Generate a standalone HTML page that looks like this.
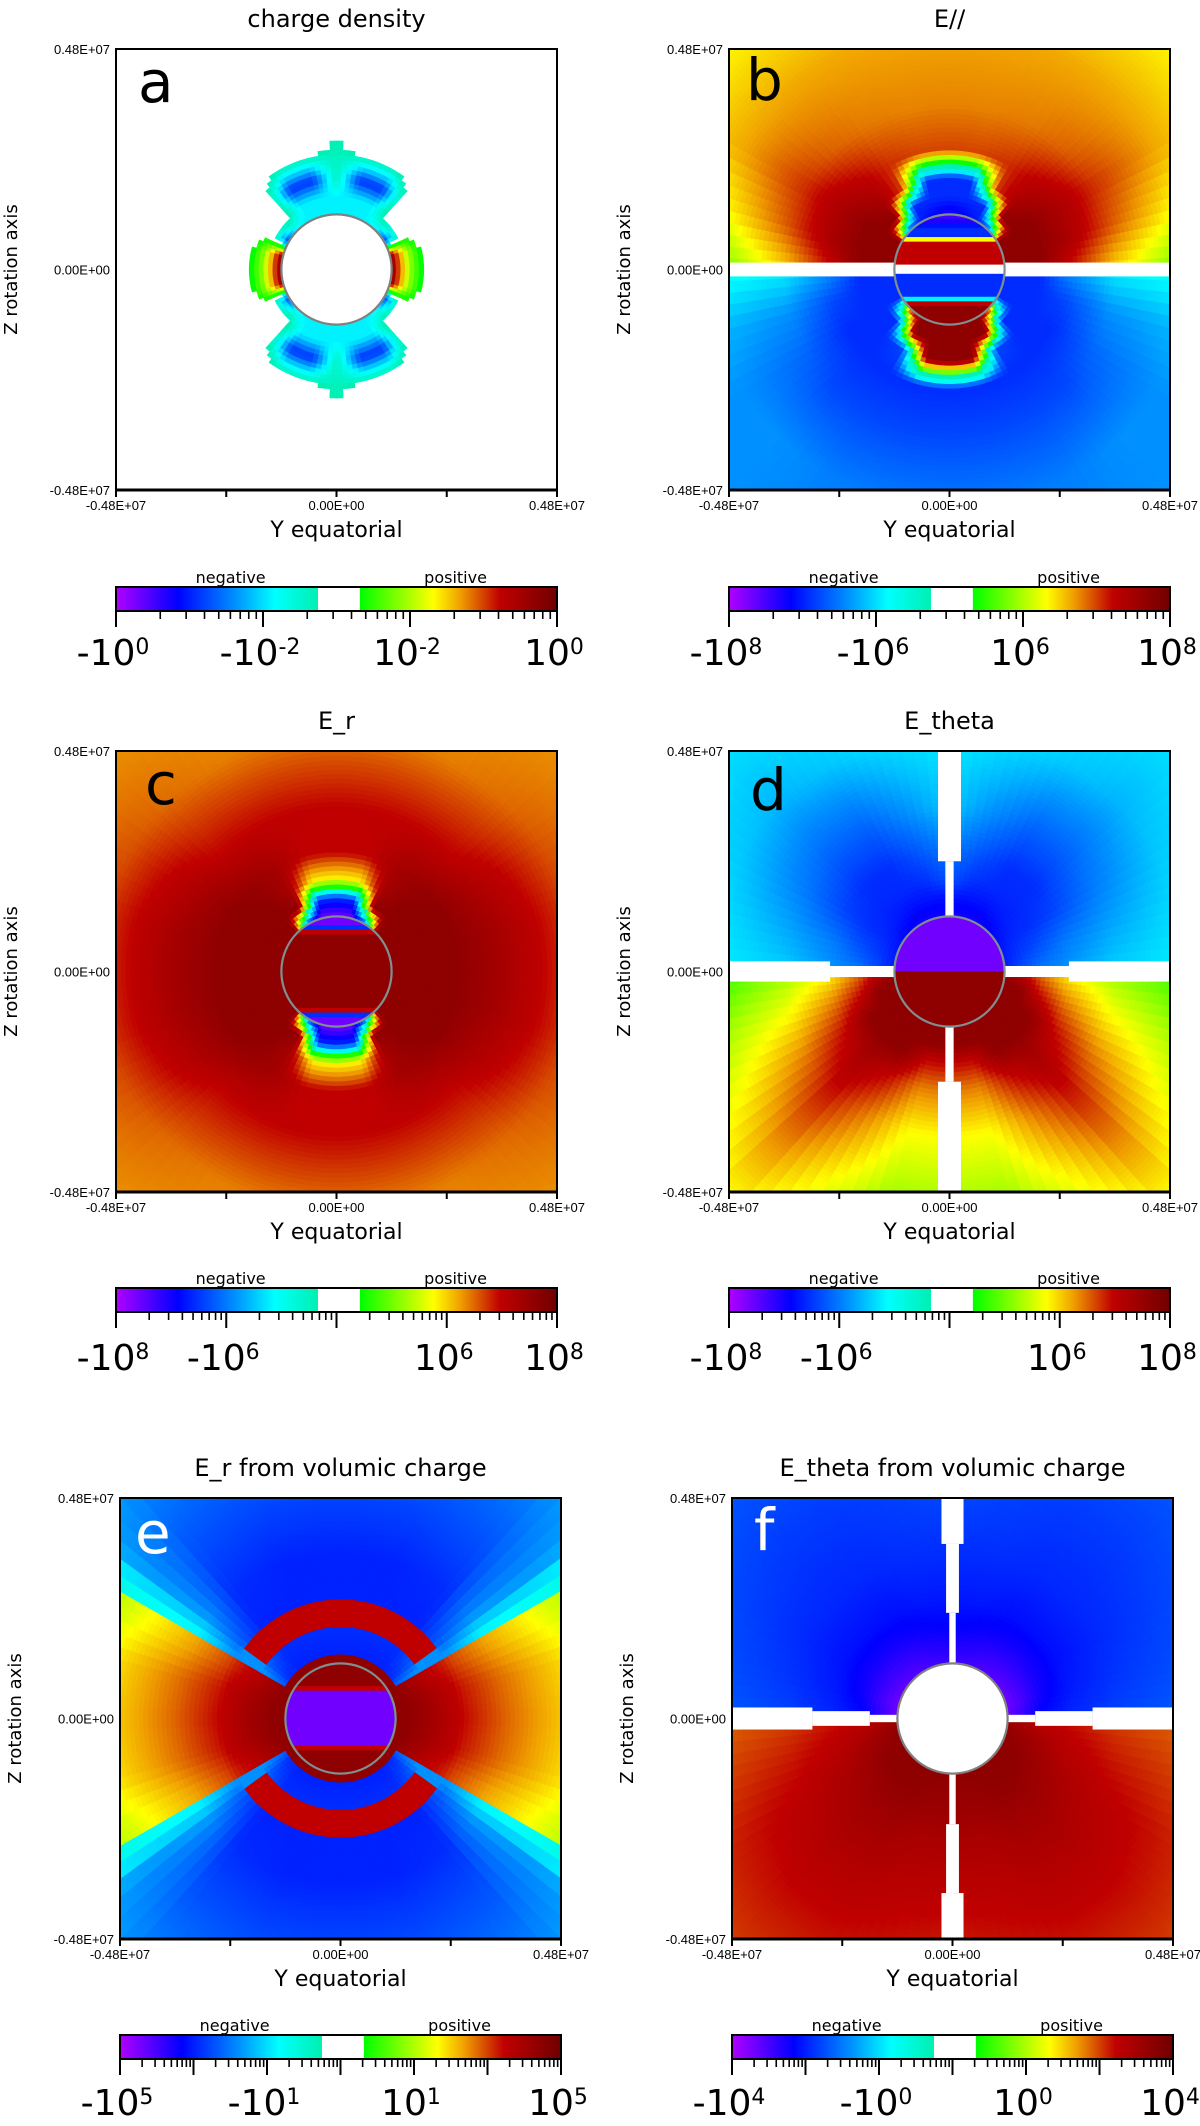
<!DOCTYPE html>
<html><head><meta charset="utf-8">
<style>
html,body{margin:0;padding:0;background:#fff}
svg{display:block}
text{font-family:"DejaVu Sans","Liberation Sans",sans-serif;fill:#000}
.tk{font-family:"Liberation Sans",sans-serif;font-size:13px}
</style></head>
<body>
<svg id="fig" width="1200" height="2126" viewBox="0 0 1200 2126" xmlns="http://www.w3.org/2000/svg">
<defs id="defs"></defs>
</svg>
<script>
// ---------- data (values in field units; radii in 1e6 m; angles in degrees from north pole) ----------
const radiiStd = [1.2, 1.6, 2.0, 2.6, 3.6, 5.2, 7.0];
const thetaTopStd = [0, 15, 30, 45, 60, 75, 90];
const thetaBotStd = [90, 105, 120, 135, 150, 165, 180];

const aTop = [
 [-0.008,-0.008,-0.008,-0.008,-0.083,0.5,0.5],
 [-0.008,-0.008,-0.008,0,0,0.008,0.008],
 [-0.0023,-0.083,-0.083,0,0,0,0],
 [-0.0023,0,0,0,0,0,0],
 [0,0,0,0,0,0,0],[0,0,0,0,0,0,0],[0,0,0,0,0,0,0]];
const aBot = [
 [0.5,0.5,-0.083,-0.008,-0.008,-0.008,-0.008],
 [0.008,0.008,0,0,-0.008,-0.008,-0.008],
 [0,0,0,0,-0.083,-0.083,-0.0023],
 [0,0,0,0,0,0,-0.0023],
 [0,0,0,0,0,0,0],[0,0,0,0,0,0,0],[0,0,0,0,0,0,0]];
const aInside = [0,0,0,0,0,0,0,0,0,0,0,0,0,0,0,0,0,0,0,0,0,0,0,0];

const bTop = [
 [-2e7,-1.5e7,-1e7,-8.3e6,5e7,5e7,5e7],
 [-8.3e6,-8.3e6,-8.3e6,5e7,5e7,5e7,5e7],
 [-8.3e6,-8.3e6,1e7,3e7,5e7,5e7,5e7],
 [1e7,1e7,1.2e7,2e7,3e7,3e7,1.5e7],
 [6e6,6e6,6.5e6,8e6,1.2e7,9e6,3e6],
 [4.5e6,4.5e6,4.5e6,4.5e6,4.5e6,1.8e6,4e5],
 [3e6,2.5e6,2.1e6,2.1e6,2e6,8e5,2.6e5]];
const bBot = [
 [-8.3e6,-8.3e6,-8.3e6,1.66e7,5e7,5e7,5e7],
 [-8.3e6,-8.3e6,-8.3e6,-8.3e6,5e7,5e7,5e7],
 [-8.3e6,-8.3e6,-8.3e6,-8.3e6,-6e6,5e7,5e7],
 [-2.4e6,-6e6,-8.3e6,-8.3e6,-8.3e6,-8.3e6,-8.3e6],
 [-7.9e5,-2.4e6,-4e6,-6e6,-6e6,-6e6,-6e6],
 [-5e5,-1.5e6,-2.4e6,-2.4e6,-3e6,-3e6,-3e6],
 [-5e5,-1e6,-2.4e6,-2.4e6,-2.4e6,-2.4e6,-2.4e6]];
const bInside = [-3e7,-2e7,-1.2e7,-8.3e6,-8.3e6,2.1e6,1.66e7,1.66e7,1.66e7,1.66e7,1.66e7,0,0,-8.3e6,-8.3e6,-8.3e6,-8.3e6,-8.3e6,-7.9e5,1.66e7,5e7,5e7,5e7,5e7];

const cTop = [
 [-4e7,-4e7,-3.6e6,4e7,4e7,4e7,4e7],
 [-3.6e6,-3.6e6,4e7,4e7,4e7,4e7,4e7],
 [5.8e5,5.8e5,2e7,4e7,4e7,4e7,4e7],
 [9.1e6,9.1e6,2e7,3e7,4e7,4e7,4e7],
 [9.1e6,9.1e6,9.1e6,9.1e6,1.5e7,2e7,2e7],
 [2.5e6,2.5e6,2.5e6,3e6,4e6,5e6,5e6],
 [1.5e6,1.6e6,1.8e6,2e6,2e6,2.2e6,2.5e6]];
const cBot = [
 [4e7,4e7,4e7,4e7,-3.6e6,-4e7,-4e7],
 [4e7,4e7,4e7,4e7,4e7,-3.6e6,-3.6e6],
 [4e7,4e7,4e7,4e7,2e7,5.8e5,5.8e5],
 [4e7,4e7,4e7,3e7,2e7,9.1e6,9.1e6],
 [2e7,2e7,1.5e7,9.1e6,9.1e6,9.1e6,9.1e6],
 [5e6,5e6,4e6,3e6,2.5e6,2.5e6,2.5e6],
 [2.5e6,2.2e6,2e6,2e6,1.8e6,1.6e6,1.5e6]];
const cInside = [-4e7,-4e7,-3.6e6,9.1e6,4e7,4e7,4e7,4e7,4e7,4e7,4e7,4e7,4e7,4e7,4e7,4e7,4e7,4e7,4e7,4e7,9.1e6,-3.6e6,-4e7,-4e7];

const dTop = [
 [-1e7,-1e7,-1e7,-8e6,-6e6,-5e6,-5e6],
 [-6e6,-6e6,-6e6,-5e6,-4e6,-3e6,-2e6],
 [-2e6,-3.6e6,-4e6,-4e6,-3.6e6,-2e6,-1e6],
 [-1e6,-2e6,-3.6e6,-3.6e6,-2.5e6,-1e6,-6e5],
 [-3e5,-6.9e5,-1.5e6,-1.5e6,-1e6,-5e5,-2.5e5],
 [-1.6e5,-2e5,-3e5,-4e5,-3e5,-2e5,-1.5e5],
 [-1.2e5,-1.2e5,-1.5e5,-2e5,-1.5e5,-1.2e5,-1e5]];
const dBot = [
 [4e7,4e7,4e7,4e7,4e7,4e7,4e7],
 [9.1e6,4e7,4e7,4e7,4e7,4e7,4e7],
 [2.5e6,9.1e6,4e7,4e7,4e7,9.1e6,9.1e6],
 [5.8e5,2.5e6,9.1e6,2e7,9.1e6,2.5e6,2.5e6],
 [1.6e5,5.8e5,2.5e6,9.1e6,2.5e6,5.8e5,5.8e5],
 [3.6e4,1.6e5,5.8e5,2.5e6,5.8e5,1.6e5,1.6e5],
 [3.6e4,3.6e4,1.6e5,5.8e5,1.6e5,3.6e4,3.6e4]];
const dInside = [-4e7,-4e7,-4e7,-4e7,-4e7,-4e7,-4e7,-4e7,-4e7,-4e7,-4e7,-4e7,4e7,4e7,4e7,4e7,4e7,4e7,4e7,4e7,4e7,4e7,4e7,4e7];

const radiiE = [1.2, 1.32, 1.42, 1.95, 2.05, 2.6, 2.7, 3.6, 5.2, 7.0];
const thetaTopE = [0, 20, 40, 52, 58, 63, 75, 90];
const thetaBotE = [90, 105, 117, 122, 128, 140, 160, 180];
const eTop = [
 [2.5e4,2.5e4,2.5e4,2.5e4,2.5e4,2.5e4,2.5e4,2.5e4],
 [2.5e4,2.5e4,2.5e4,2.5e4,2.5e4,2.5e4,2.5e4,2.5e4],
 [-900,-900,-900,-690,-230,2e4,2.5e4,2.5e4],
 [-690,-690,-690,-230,-58,5000,1e4,1.2e4],
 [2750,2750,2750,2750,-58,4000,8000,1e4],
 [2750,2750,2750,2750,-58,1500,2750,3000],
 [-900,-900,-900,-230,-58,1000,2000,2500],
 [-900,-900,-690,-58,-6.3,200,500,600],
 [-300,-300,-230,-58,-3,20,60,76],
 [-100,-100,-58,-30,-1,3,15,20]];
const eBot = [
 [2.5e4,2.5e4,2.5e4,2.5e4,2.5e4,2.5e4,2.5e4,2.5e4],
 [2.5e4,2.5e4,2.5e4,2.5e4,2.5e4,2.5e4,2.5e4,2.5e4],
 [2.5e4,2.5e4,2e4,-230,-690,-900,-900,-900],
 [1.2e4,1e4,5000,-58,-230,-690,-690,-690],
 [1e4,8000,4000,-58,2750,2750,2750,2750],
 [3000,2750,1500,-58,2750,2750,2750,2750],
 [2500,2000,1000,-58,-230,-900,-900,-900],
 [600,500,200,-6.3,-58,-690,-900,-900],
 [76,60,20,-3,-58,-230,-300,-300],
 [20,15,3,-1,-30,-58,-100,-100]];
const eInside = [2.5e4,2.5e4,2.5e4,2.5e4,2.5e4,2750,-2.5e4,-2.5e4,-2.5e4,-2.5e4,-2.5e4,-2.5e4,-2.5e4,-2.5e4,-2.5e4,-2.5e4,-2.5e4,-2.5e4,2750,2.5e4,2.5e4,2.5e4,2.5e4,2.5e4];

const fTop = [
 [-800,-900,-1200,-1500,-2000,-2500,-2000],
 [-400,-450,-600,-700,-800,-900,-500],
 [-200,-250,-300,-350,-350,-300,-150],
 [-120,-120,-150,-150,-150,-120,-80],
 [-69,-69,-80,-80,-80,-60,-40],
 [-30,-40,-50,-50,-40,-30,-20],
 [-15,-20,-25,-25,-20,-15,-12]];
const fBot = [
 [1500,2500,2500,2500,2500,2500,2500],
 [600,1500,2500,2500,2500,2000,2000],
 [300,800,1500,2000,2000,1500,1500],
 [200,400,800,1200,1200,800,800],
 [100,200,400,600,600,400,400],
 [50,100,200,250,250,200,150],
 [30,50,80,100,100,80,60]];
const fInside = [0,0,0,0,0,0,0,0,0,0,0,0,0,0,0,0,0,0,0,0,0,0,0,0];

// white gaps: [r_start, r_end, half_width] in 1e6 m
const bEqGap = [[1.2,7,0.15]];
const dAxisGap = [[1.2,2.4,0.09],[2.4,7,0.25]];
const dEqGap = [[1.2,2.6,0.12],[2.6,7,0.22]];
const fAxisGap = [[1.2,2.3,0.07],[2.3,3.8,0.14],[3.8,7,0.24]];
const fEqGap = [[1.2,1.8,0.08],[1.8,3.05,0.16],[3.05,7,0.24]];

// colorbar labels
const cbBasesA = ['-10','-10','10','10']; const cbExpsA = ['0','-2','-2','0'];
const cbBasesB = ['-10','-10','10','10']; const cbExpsB = ['8','6','6','8'];
const cbBasesC = ['-10','-10','10','10']; const cbExpsC = ['8','6','6','8'];
const cbBasesD = ['-10','-10','10','10']; const cbExpsD = ['8','6','6','8'];
const cbBasesE = ['-10','-10','10','10']; const cbExpsE = ['5','1','1','5'];
const cbBasesF = ['-10','-10','10','10']; const cbExpsF = ['4','0','0','4'];
const axisTickLabels = ['-0.48E+07','0.00E+00','0.48E+07'];
const extent = 4.8, sphereR = 1.2;

// ---------- rendering ----------
const NS = 'http://www.w3.org/2000/svg';
const svg = document.getElementById('fig');
const defs = document.getElementById('defs');
function el(tag, attrs, parent){ const e=document.createElementNS(NS,tag); for(const k in attrs) e.setAttribute(k,attrs[k]); (parent||svg).appendChild(e); return e; }

const stops=[[0,[176,0,255]],[0.14,[0,0,255]],[0.27,[0,144,255]],[0.36,[0,255,255]],[0.458,[0,240,176]],[0.553,[0,255,0]],[0.72,[255,255,0]],[0.78,[240,160,0]],[0.87,[192,0,0]],[1,[112,0,0]]];
function cmap(f){
  if(f>0.458 && f<0.553) return null;
  f=Math.max(0,Math.min(1,f));
  for(let k=0;k<stops.length-1;k++){
    const a=stops[k], b=stops[k+1];
    if(f>=a[0] && f<=b[0]){ const t=(f-a[0])/(b[0]-a[0]||1); const c=a[1].map((v,i)=>Math.round(v+(b[1][i]-v)*t)); return 'rgb('+c.join(',')+')'; }
  }
  return 'rgb(112,0,0)';
}
function frac(v,p){
  if(v===0) return 0.5;
  const e=Math.log10(Math.abs(v));
  if(v>0) return Math.max(0.5,Math.min(1,1-(p.emax-e)*p.d));
  return Math.max(0,Math.min(0.5,(p.emax-e)*p.d));
}
function locate(arr,v){
  const n=arr.length-1;
  if(v<=arr[0]) return [0,0,0];
  if(v>=arr[n]) return [n,n,0];
  for(let k=0;k<n;k++) if(v>=arr[k] && v<=arr[k+1]) return [k,k+1,(v-arr[k])/(arr[k+1]-arr[k])];
  return [n,n,0];
}
function fieldF(p,r,th){
  const top = th<=90;
  const T = top?p.thTop:p.thBot, tab = top?p.top:p.bot;
  const [i0,i1,ti]=locate(p.radii,r), [j0,j1,tj]=locate(T,th);
  const v=[tab[i0][j0],tab[i0][j1],tab[i1][j0],tab[i1][j1]];
  const w=[(1-tj)*(1-ti),tj*(1-ti),(1-tj)*ti,tj*ti];
  const fs=v.map(x=>frac(x,p));
  const hasZero=v.some(x=>x===0);
  const mixed=v.some(x=>x>0)&&v.some(x=>x<0);
  if(p.sharp && mixed && !hasZero){
    let wp=0,fp=0,wn=0,fn=0;
    v.forEach((x,k)=>{ if(x>0){wp+=w[k];fp+=w[k]*fs[k];} else {wn+=w[k];fn+=w[k]*fs[k];} });
    return wp>=wn ? fp/wp : fn/wn;
  }
  let f=0; fs.forEach((x,k)=>f+=x*w[k]);
  if(!hasZero && f>0.458 && f<0.553) f = f<0.505?0.44:0.57;
  return f;
}

const SIZE=441;
const panels=[
 {id:'a',title:'charge density',x:116,y:49,top:aTop,bot:aBot,inside:aInside,radii:radiiStd,thTop:thetaTopStd,thBot:thetaBotStd,emax:0,d:1/6,axisGap:[],eqGap:[],lc:'#000',lx:138,ly:102,dec:3,labDec:[0,1,2,3],bases:cbBasesA,exps:cbExpsA,cbY:587,labY:665,outline:'#808080'},
 {id:'b',title:'E//',x:729,y:49,top:bTop,bot:bBot,inside:bInside,radii:radiiStd,thTop:thetaTopStd,thBot:thetaBotStd,emax:8,d:1/6,axisGap:[],eqGap:bEqGap,lc:'#000',lx:746,ly:100,dec:3,labDec:[0,1,2,3],bases:cbBasesB,exps:cbExpsB,cbY:587,labY:665,outline:'#7f8f8f'},
 {id:'c',title:'E_r',x:116,y:751,top:cTop,bot:cBot,inside:cInside,radii:radiiStd,thTop:thetaTopStd,thBot:thetaBotStd,emax:8,d:1/8,axisGap:[],eqGap:[],lc:'#000',lx:145,ly:804,dec:4,labDec:[0,1,3,4],bases:cbBasesC,exps:cbExpsC,cbY:1288,labY:1370,outline:'#7f8f8f'},
 {id:'d',title:'E_theta',x:729,y:751,top:dTop,bot:dBot,inside:dInside,radii:radiiStd,thTop:thetaTopStd,thBot:thetaBotStd,emax:8,d:1/8,axisGap:dAxisGap,eqGap:dEqGap,lc:'#000',lx:750,ly:810,dec:4,labDec:[0,1,3,4],bases:cbBasesD,exps:cbExpsD,cbY:1288,labY:1370,outline:'#7f8f8f'},
 {id:'e',title:'E_r from volumic charge',x:120,y:1498,top:eTop,bot:eBot,inside:eInside,radii:radiiE,thTop:thetaTopE,thBot:thetaBotE,emax:5,d:1/12,sharp:true,axisGap:[],eqGap:[],lc:'#fff',lx:135,ly:1553,dec:6,labDec:[0,2,4,6],bases:cbBasesE,exps:cbExpsE,cbY:2035,labY:2115,outline:'#7f8f8f'},
 {id:'f',title:'E_theta from volumic charge',x:732,y:1498,top:fTop,bot:fBot,inside:fInside,radii:radiiStd,thTop:thetaTopStd,thBot:thetaBotStd,emax:4,d:1/12,axisGap:fAxisGap,eqGap:fEqGap,lc:'#fff',lx:754,ly:1550,dec:6,labDec:[0,2,4,6],bases:cbBasesF,exps:cbExpsF,cbY:2035,labY:2115,outline:'#808080'}
];

(function(){
  const gn=el('linearGradient',{id:'gneg',x1:'0',x2:'1',y1:'0',y2:'0'},defs);
  stops.filter(s=>s[0]<=0.458).forEach(s=>el('stop',{offset:(s[0]/0.458),'stop-color':'rgb('+s[1].join(',')+')'},gn));
  const gp=el('linearGradient',{id:'gpos',x1:'0',x2:'1',y1:'0',y2:'0'},defs);
  stops.filter(s=>s[0]>=0.553).forEach(s=>el('stop',{offset:((s[0]-0.553)/0.447),'stop-color':'rgb('+s[1].join(',')+')'},gp));
})();

panels.forEach(p=>{
  const s=SIZE/(2*extent), cx=p.x+SIZE/2, cy=p.y+SIZE/2;
  const X=v=>cx+v*s, Y=v=>cy-v*s;
  const g=el('g',{});
  
  

  const cp=el('clipPath',{id:'clip-'+p.id},defs);
  el('rect',{x:p.x,y:p.y,width:SIZE,height:SIZE},cp);
  const cpc=el('clipPath',{id:'sph-'+p.id},defs);
  el('circle',{cx:cx,cy:cy,r:sphereR*s},cpc);

  const title=el('text',{x:p.x+SIZE/2,y:p.y-22,'text-anchor':'middle','font-size':'24'},g);
  title.textContent=p.title;
  
  

  const heat=el('g',{'clip-path':'url(#clip-'+p.id+')'},g);
  
  
  const dr=0.1, dth=3;
  for(let r0=sphereR;r0<7.0-1e-9;r0+=dr){
    const r1=r0+dr, rc=r0+dr/2;
    for(let a0=0;a0<360;a0+=dth){
      const a1=a0+dth, ac=a0+dth/2;
      const rad=ac*Math.PI/180;
      const xc=rc*Math.sin(rad), zc=rc*Math.cos(rad);
      if(Math.abs(xc)>extent+0.25||Math.abs(zc)>extent+0.25) continue;
      const th=ac<=180?ac:360-ac;
      const col=cmap(fieldF(p,rc,th));
      if(!col) continue;
      const pts=[[r0,a0],[r1,a0],[r1,a1],[r0,a1]].map(([r,a])=>{const q=a*Math.PI/180;return X(r*Math.sin(q)).toFixed(1)+','+Y(r*Math.cos(q)).toFixed(1);}).join(' ');
      const cell=el('polygon',{points:pts,fill:col,stroke:col,'stroke-width':'0.6'},heat);
      
      
    }
  }
  const sph=el('g',{'clip-path':'url(#sph-'+p.id+')'},g);
  
  
  const nb=p.inside.length, bh=2*sphereR/nb;
  p.inside.forEach((v,k)=>{
    const col=cmap(frac(v,p));
    const z0=sphereR-k*bh;
    const band=el('rect',{x:X(-sphereR)-1,y:Y(z0)-0.3,width:2*sphereR*s+2,height:bh*s+0.6,fill:col||'#fff'},sph);
    
    
  });
  const gaps=el('g',{'clip-path':'url(#clip-'+p.id+')'},g);
  
  
  p.axisGap.forEach(([ra,rb,hw])=>{
    [1,-1].forEach(sg=>{
      const za=sg*ra, zb=sg*rb;
      const gr=el('rect',{x:X(-hw),y:Math.min(Y(za),Y(zb)),width:2*hw*s,height:Math.abs(Y(za)-Y(zb)),fill:'#fff'},gaps);
      
      
    });
  });
  p.eqGap.forEach(([ra,rb,hw])=>{
    [1,-1].forEach(sg=>{
      const xa=sg*ra, xb=sg*rb;
      const gr=el('rect',{x:Math.min(X(xa),X(xb)),y:Y(hw),width:Math.abs(X(xa)-X(xb)),height:2*hw*s,fill:'#fff'},gaps);
      
      
    });
  });
  const circ=el('circle',{cx:cx,cy:cy,r:sphereR*s,fill:'none',stroke:p.outline,'stroke-width':'2.2'},g);
  
  

  const frame=el('rect',{x:p.x,y:p.y,width:SIZE,height:SIZE,fill:'none',stroke:'#000','stroke-width':'2'},g);
  
  
  const bl=el('line',{x1:p.x-1,x2:p.x+SIZE+1,y1:p.y+SIZE,y2:p.y+SIZE,stroke:'#000','stroke-width':'3'},g);
  
  
  for(let k=0;k<5;k++){
    const tx=X(-extent+k*extent/2);
    const t=el('line',{x1:tx,x2:tx,y1:p.y+SIZE,y2:p.y+SIZE+7,stroke:'#000','stroke-width':'2'},g);
    
    
  }
  [[-extent,0],[0,1],[extent,2]].forEach(([v,li])=>{
    const t=el('text',{x:X(v),y:p.y+SIZE+20,'text-anchor':'middle',class:'tk'},g);
    t.textContent=axisTickLabels[li];
    
    
    const u=el('text',{x:p.x-6,y:Y(v)+5,'text-anchor':'end',class:'tk'},g);
    u.textContent=axisTickLabels[li];
    
    
  });
  const xl=el('text',{x:p.x+SIZE/2,y:p.y+SIZE+47,'text-anchor':'middle','font-size':'22'},g);
  xl.textContent='Y equatorial';
  
  
  const yx=p.x-99;
  const yl=el('text',{x:yx,y:cy,'text-anchor':'middle','font-size':'18',transform:'rotate(-90 '+yx+' '+cy+')'},g);
  yl.textContent='Z rotation axis';
  
  
  const lt=el('text',{x:p.lx,y:p.ly,'font-size':'58',fill:p.lc,style:'fill:'+p.lc},g);
  lt.textContent=p.id;
  
  

  const cb=el('g',{},g);
  
  
  const bx=p.x, by=p.cbY, bw=SIZE, bhh=24;
  el('rect',{x:bx,y:by,width:bw*0.458,height:bhh,fill:'url(#gneg)'},cb);
  el('rect',{x:bx+bw*0.553,y:by,width:bw*0.447,height:bhh,fill:'url(#gpos)'},cb);
  const bord=el('rect',{x:bx,y:by,width:bw,height:bhh,fill:'none',stroke:'#000','stroke-width':'2'},cb);
  
  
  const neg=el('text',{x:bx+bw*0.26,y:by-4,'text-anchor':'middle','font-size':'16'},cb);
  neg.textContent='negative';
  
  
  const pos=el('text',{x:bx+bw*0.77,y:by-4,'text-anchor':'middle','font-size':'16'},cb);
  pos.textContent='positive';
  
  
  const dw=bw/p.dec;
  for(let i=0;i<=p.dec;i++){
    const mx=bx+i*dw;
    const mt=el('line',{x1:mx,x2:mx,y1:by+bhh,y2:by+bhh+16,stroke:'#000','stroke-width':'2'},cb);
    
    
    if(i<p.dec){
      for(let k=2;k<=9;k++){
        const tx=mx+Math.log10(k)*dw;
        const mn=el('line',{x1:tx,x2:tx,y1:by+bhh,y2:by+bhh+8,stroke:'#000','stroke-width':'1.6'},cb);
        
        
      }
    }
  }
  p.labDec.forEach((di,k)=>{
    const t=el('text',{x:bx+di*dw-3,y:p.labY,'text-anchor':'middle','font-size':'36'},cb);
    const b=el('tspan',{},t); b.textContent=p.bases[k];
    const e=el('tspan',{'font-size':'22',dy:'-11'},t); e.textContent=p.exps[k];
    
    
  });
});
</script>
</body></html>
